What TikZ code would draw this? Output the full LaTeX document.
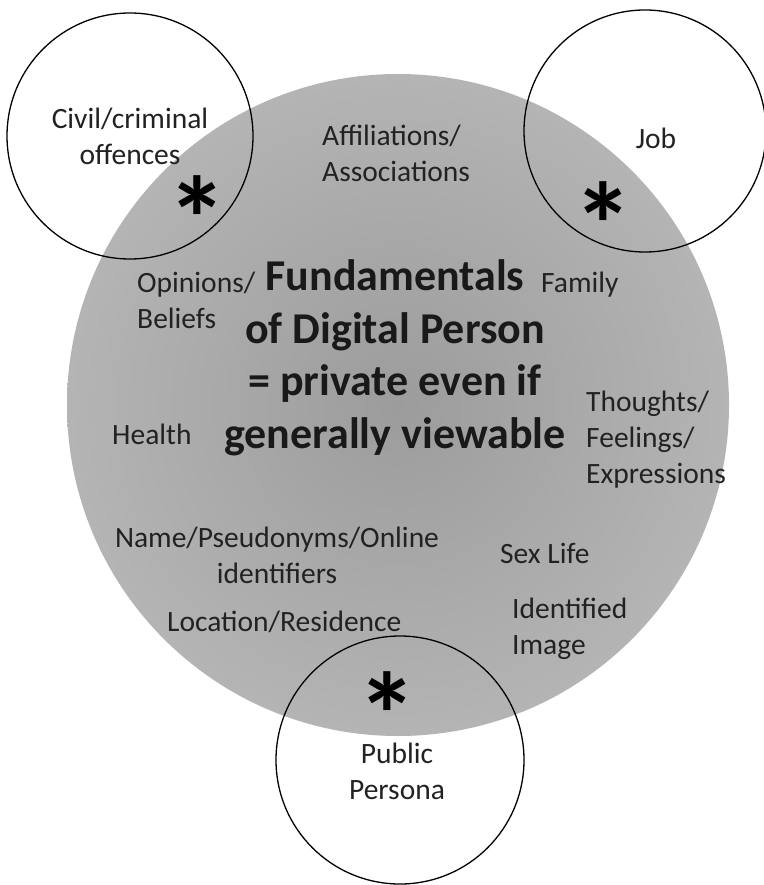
\documentclass[tikz,border=0pt]{standalone}
\usepackage{fontspec}
\setmainfont{Carlito}
\definecolor{ctr}{HTML}{9C9C9C}
\definecolor{mid}{HTML}{B4B4B4}
\definecolor{edg}{HTML}{D6D6D6}
\definecolor{txt}{HTML}{222222}
\pgfdeclareradialshading{bigshade}{\pgfpoint{0bp}{0bp}}{color(0bp)=(ctr); color(25bp)=(mid); color(50bp)=(edg)}
\newcommand{\bigstar}{\raisebox{-64pt}[15pt][15pt]{*}}
\tikzset{
  lbl/.style={inner sep=0pt, text=txt, font=\fontsize{29.5}{36}\selectfont},
  lbll/.style={lbl, anchor=west, align=left},
  lblc/.style={lbl, align=center},
  ring/.style={draw=black, line width=1.3pt},
  star/.style={inner sep=0pt, text=black, font=\fontsize{120}{120}\selectfont\bfseries},
}
\begin{document}
\begin{tikzpicture}[x=1pt,y=-1pt]
\useasboundingbox (0,0) rectangle (763,885);
\fill[white] (0,0) rectangle (763,885);
\shade[shading=bigshade] (398,405) circle[radius=331];
\draw[ring] (130,136) circle[radius=123];
\draw[ring] (645,131) circle[radius=121];
\draw[ring] (400,760) circle[radius=124];
\node[lblc] (civil) at (130,136) {Civil/criminal\\offences};
\node[lbll] (affil) at (322,153) {Affiliations/\\Associations};
\node[lblc] (job) at (656,138) {Job};
\node[lbll] (opin) at (137,300) {Opinions/\\Beliefs};
\node[inner sep=0pt, align=center, text=black!90, font=\fontsize{44}{52.5}\selectfont\bfseries] (main) at (395,358) {Fundamentals\\of Digital Person\\= private even if\\generally viewable};
\node[lbll] (family) at (541,285) {Family};
\node[lbll] (health) at (112,434) {Health};
\node[lbll] (thought) at (586,440) {Thoughts/\\Feelings/\\Expressions};
\node[lblc] (name) at (277,555) {Name/Pseudonyms/Online\\identifiers};
\node[lbll] (sex) at (500,553) {Sex Life};
\node[lbll] (loc) at (167,622) {Location/Residence};
\node[lbll] (ident) at (512,629) {Identified\\Image};
\node[lblc] (public) at (397,771) {Public\\Persona};
\node[star] (s1) at (197,197) {\bigstar};
\node[star] (s2) at (603,204) {\bigstar};
\node[star] (s3) at (387,693) {\bigstar};
\end{tikzpicture}
\end{document}
